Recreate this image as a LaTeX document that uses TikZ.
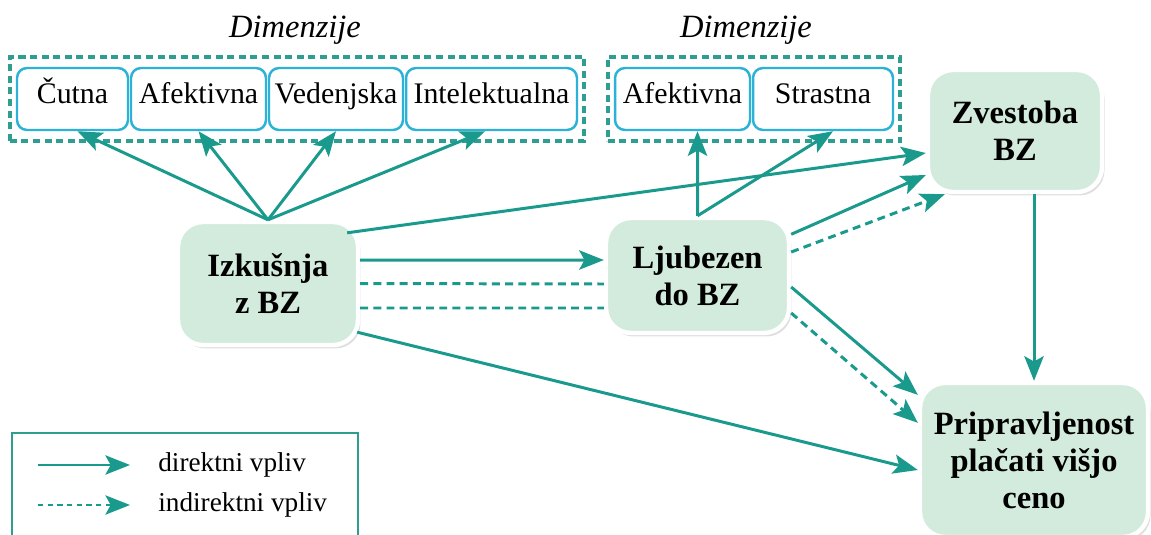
\documentclass[tikz,border=0pt]{standalone}
\usepackage{fontspec}
\setmainfont{Liberation Serif}
\usetikzlibrary{arrows.meta}
\usetikzlibrary{shadows}
\usetikzlibrary{fit}
\definecolor{arrteal}{HTML}{1A9A8C}
\definecolor{frameteal}{HTML}{2E9E90}
\definecolor{boxcyan}{HTML}{2CB2D6}
\definecolor{boxgreen}{HTML}{D3EBDC}

\begin{document}
\begin{tikzpicture}[x=0.02cm, y=-0.02cm,
  dimlabel/.style={font=\fontsize{18.5}{22}\selectfont\itshape},
  dimbox/.style={draw=boxcyan, line width=1.4pt, fill=white, rounded corners=0.2cm, minimum height=1.24cm, inner sep=0pt, text height=0.68em, text depth=0.22em, font=\fontsize{17}{20}\selectfont},
  dimframe/.style={draw=frameteal, line width=2.2pt, dash pattern=on 4pt off 2.6pt, inner xsep=0.12cm, inner ysep=0.2cm},
  mainbox/.style={draw=white, line width=2.5pt, fill=boxgreen, rounded corners=0.5cm, align=center, inner sep=0pt, font=\fontsize{18.5}{21}\selectfont\bfseries, drop shadow={opacity=0.25, shadow xshift=0.05cm, shadow yshift=-0.07cm}},
  legtext/.style={font=\fontsize{15.5}{18}\selectfont, anchor=west, inner sep=0pt},
  direct/.style={draw=arrteal, line width=1.7pt, -{Stealth[length=\al, width=\aw, inset=3pt]}},
  indirect/.style={direct, dash pattern=on 4.5pt off 3pt},
]
\def\al{14pt}
\def\aw{11pt}
\clip (0,0) rectangle (1151,534);

% dimenzije
\node[dimlabel] (dimA) at (295,30) {Dimenzije};
\node[dimlabel] (dimB) at (746,30) {Dimenzije};
\node[dimbox, minimum width=2.22cm] (cutna)  at (72.5,99)  {Čutna};
\node[dimbox, minimum width=2.7cm]  (afekt)  at (198.5,99) {Afektivna};
\node[dimbox, minimum width=2.68cm] (vedenj) at (336,99)   {Vedenjska};
\node[dimbox, minimum width=3.42cm] (intel)  at (491.5,99) {Intelektualna};
\node[dimbox, minimum width=2.7cm]  (afektB) at (682.5,99) {Afektivna};
\node[dimbox, minimum width=2.8cm]  (strast) at (823,99)   {Strastna};
\node[dimframe, fit=(cutna)(intel)] (frameA) {};
\node[dimframe, fit=(afektB)(strast)] (frameB) {};

% glavna vozlisca
\node[mainbox, minimum width=3.6cm,  minimum height=2.46cm] (izk)   at (268,283.5)  {Izkušnja\\z BZ};
\node[mainbox, minimum width=3.66cm, minimum height=2.3cm]  (ljub)  at (697.5,275.5) {Ljubezen\\do BZ};
\node[mainbox, minimum width=3.48cm, minimum height=2.44cm] (zvest) at (1015,131)   {Zvestoba\\BZ};
\node[mainbox, minimum width=4.56cm, minimum height=3.08cm] (prip)  at (1034,460)   {Pripravljenost\\plačati višjo\\ceno};

% vplivi
\draw[direct] (izk.north) -- ([xshift=0.1cm]cutna.south);
\draw[direct] (izk.north) -- (afekt.south);
\draw[direct] (izk.north) -- (vedenj.south);
\draw[direct] (izk.north) -- ([xshift=-0.13cm]intel.south);
\draw[direct] ([shift={(-0.26cm,-0.26cm)}]izk.north east) -- ([yshift=-0.44cm]zvest.west);
\draw[direct] ([yshift=0.47cm]izk.east) -- ([yshift=0.31cm]ljub.west);
\draw[indirect, -] (izk.east) -- ([yshift=-0.17cm]ljub.west);
\draw[indirect, -] ([yshift=-0.49cm]izk.east) -- ([yshift=-0.65cm]ljub.west);
\draw[direct] ([shift={(-0.06cm,0.3cm)}]izk.south east) -- ([yshift=-0.2cm]prip.west);
\draw[direct] (ljub.north) -- ([xshift=0.3cm]afektB.south);
\draw[direct] (ljub.north) -- ([xshift=0.2cm]strast.south);
\draw[direct] (ljub) -- ([yshift=-0.88cm]zvest.west);
\draw[indirect] ([yshift=0.47cm]ljub.east) -- ([xshift=0.38cm]zvest.south west);
\draw[direct] ([yshift=-0.23cm]ljub.east) -- ([yshift=-0.28cm]prip.north west);
\draw[indirect] ([yshift=-0.75cm]ljub.east) -- ([yshift=-0.84cm]prip.north west);
\draw[direct] (zvest.south -| prip.north) -- (prip.north);

% legenda
\draw[draw=frameteal, line width=1.2pt] (12,433) rectangle (358,560);
\coordinate (dirA) at (38,465);
\coordinate (dirB) at (130,465);
\coordinate (indA) at (38,505);
\coordinate (indB) at (130,505);
\node[legtext] (dirT) at (158,465) {direktni vpliv};
\node[legtext] (indT) at (158,505) {indirektni vpliv};
\draw[direct, line width=1.3pt] (dirA) -- (dirB);
\draw[indirect, line width=1.1pt, dash pattern=on 3pt off 2.5pt] (indA) -- (indB);
\end{tikzpicture}
\end{document}
